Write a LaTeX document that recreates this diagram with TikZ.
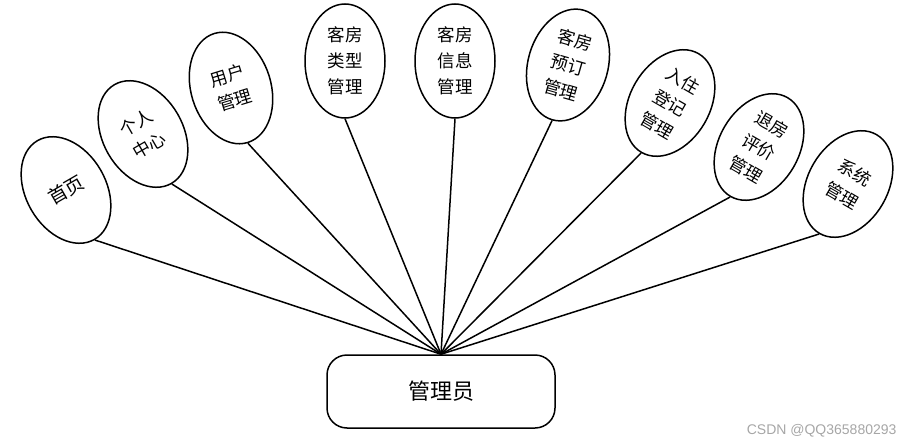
\documentclass[tikz,border=0pt]{standalone}
\usepackage{fontspec}
\newfontfamily\cjk{Noto Sans CJK SC}
\setsansfont{Liberation Sans}
\usetikzlibrary{shapes.geometric}
\begin{document}
\begin{tikzpicture}[x=1pt,y=-1pt]
\tikzset{
  item/.style={ellipse, draw, line width=1.5pt, minimum width=80pt, minimum height=114pt,
    inner sep=0pt, align=center, font=\cjk\fontsize{17.5}{26}\selectfont},
  link/.style={line width=1.5pt},
  adminbox/.style={draw, rounded corners=20pt, minimum width=228pt, minimum height=73pt,
    line width=1.5pt, font=\cjk\fontsize{22}{22}\selectfont},
  mark text/.style={font=\sffamily\fontsize{14}{14}\selectfont, text=black!35, anchor=east}
}
\useasboundingbox (0,0) rectangle (903,447);
\node[item, rotate=30, font=\cjk\fontsize{19}{26}\selectfont] (n1) at (66,190) {首页};
\node[item, rotate=30] (n2) at (143,134) {个人\\中心};
\node[item, rotate=17] (n3) at (231,88) {用户\\管理};
\node[item] (n4) at (345,61) {客房\\类型\\管理};
\node[item] (n5) at (455,61) {客房\\信息\\管理};
\node[item, rotate=-16] (n6) at (568,65) {客房\\预订\\管理};
\node[item, rotate=-30] (n7) at (670,103) {入住\\登记\\管理};
\node[item, rotate=-30] (n8) at (759,147) {退房\\评价\\管理};
\node[item, rotate=-30] (n9) at (848,184) {系统\\管理};
\node[adminbox] (admin) at (441,391.5) {管理员};
\foreach \n in {n1,n2,n3,n4,n5,n6,n7,n8,n9}
  \draw[link] (\n.south) -- (admin.north);
\node[mark text] (wm) at (900,431) {CSDN @QQ365880293};
\end{tikzpicture}
\end{document}
